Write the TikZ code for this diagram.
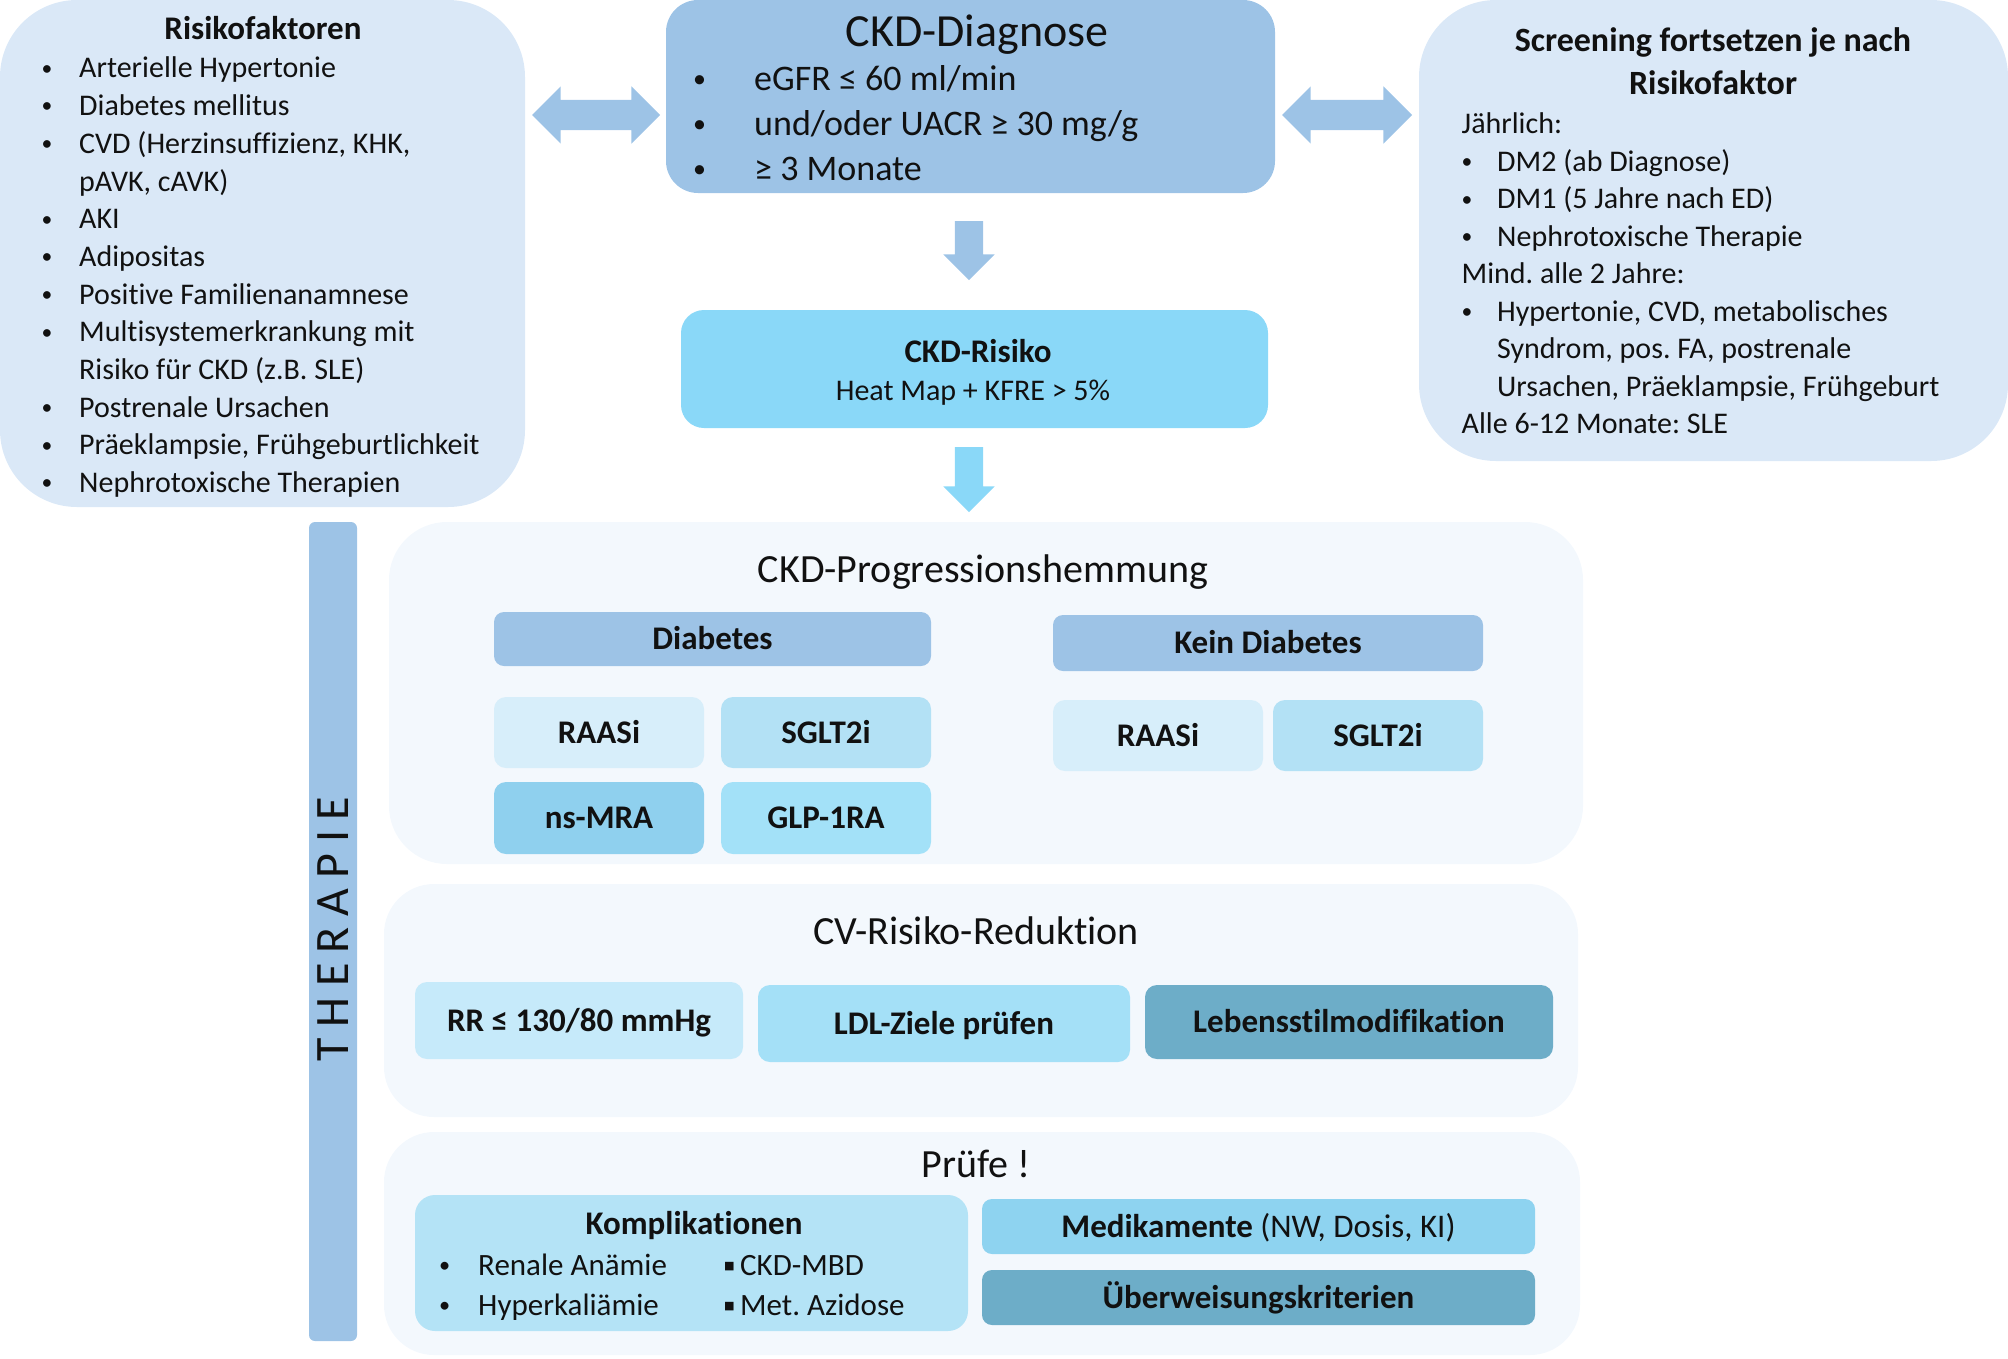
\documentclass[tikz,border=0pt]{standalone}
\usepackage{fontspec}
\setmainfont[Ligatures=NoCommon]{Carlito}
\newfontfamily\symfont{DejaVu Sans}
\usetikzlibrary{shapes.arrows}
\definecolor{cSide}{HTML}{DAE8F7}
\definecolor{cBlue}{HTML}{9DC3E6}
\definecolor{cCyan}{HTML}{8AD8F8}
\definecolor{cPanel}{HTML}{F3F8FD}
\definecolor{cRaas}{HTML}{D7EEFA}
\definecolor{cSglt}{HTML}{B3E1F5}
\definecolor{cMra}{HTML}{8FD0EE}
\definecolor{cGlp}{HTML}{A3E1F8}
\definecolor{cRR}{HTML}{C6EAFA}
\definecolor{cLdl}{HTML}{A4E0F7}
\definecolor{cDark}{HTML}{6DADC8}
\definecolor{cKompl}{HTML}{B4E3F6}
\definecolor{cMed}{HTML}{8ED3F0}
\definecolor{cText}{HTML}{111111}
\newcommand\bul{\raisebox{0.09em}{\scalebox{0.72}{•}}}
\newcommand\sqbul{\raisebox{0.2em}{\scalebox{0.36}{\symfont ■}}}
\frenchspacing
\begin{document}
\begin{tikzpicture}[x=1pt,y=-1pt,
  rbox/.style={rounded corners=#1, inner sep=0pt, outer sep=0pt, text=cText},
  lbl/.style={font=\fontsize{33}{40}\selectfont\bfseries, text height=21pt, text depth=0pt},
  ttl/.style={anchor=base, inner sep=0pt, text=cText},
  lst/.style={anchor=north west, inner sep=0pt, text=cText},
  blockarrow/.style={single arrow, shape border rotate=270, inner sep=14pt,
      single arrow head extend=11.5pt, minimum height=#1, outer sep=0pt},
  dblarrow/.style={double arrow, inner sep=15pt, double arrow head extend=13.5pt,
      minimum height=#1, outer sep=0pt, fill=cBlue}
]
\useasboundingbox (0,0) rectangle (2008,1358);

% ---------- top row ----------
\node[rbox=77pt, fill=cSide, minimum width=525pt, minimum height=507pt] (risk) at (262.5,253.5) {};
\node[rbox=32pt, fill=cBlue, minimum width=609pt, minimum height=193pt] (diag) at (970.5,96.5) {};
\node[rbox=77pt, fill=cSide, minimum width=589pt, minimum height=461pt] (scr) at (1713.5,230.5) {};
\node[dblarrow=128pt] (aL) at (596,115) {};
\node[dblarrow=130pt] (aR) at (1347,115) {};

\node[ttl, font=\fontsize{33}{40}\selectfont\bfseries] (risktitle) at (263,39) {Risikofaktoren};
\node[lst] (risklist) at (41.5,51.4) {\fontsize{30}{37.7}\selectfont
\begin{tabular}{@{}p{37.5pt}@{}l@{}}
\bul&Arterielle Hypertonie\\
\bul&Diabetes mellitus\\
\bul&CVD (Herzinsuffizienz, KHK,\\
&pAVK, cAVK)\\
\bul&AKI\\
\bul&Adipositas\\
\bul&Positive Familienanamnese\\
\bul&Multisystemerkrankung mit\\
&Risiko für CKD (z.B. SLE)\\
\bul&Postrenale Ursachen\\
\bul&Präeklampsie, Frühgeburtlichkeit\\
\bul&Nephrotoxische Therapien
\end{tabular}};

\node[ttl, font=\fontsize{46}{50}\selectfont] (diagtitle) at (977,46) {CKD-Diagnose};
\node[lst] (diaglist) at (693,59) {\fontsize{36}{45}\selectfont
\begin{tabular}{@{}p{61pt}@{}l@{}}
\bul&eGFR ≤ 60 ml/min\\
\bul&und/oder UACR ≥ 30 mg/g\\
\bul&≥ 3 Monate
\end{tabular}};

\node[ttl, font=\fontsize{34}{40}\selectfont\bfseries] (scrt1) at (1713,51) {Screening fortsetzen je nach};
\node[ttl, font=\fontsize{34}{40}\selectfont\bfseries] (scrt2) at (1713,94.5) {Risikofaktor};
\node[lst] (scrlist) at (1461.5,107.5) {\fontsize{30}{37.5}\selectfont
\begin{tabular}{@{}p{35.5pt}@{}l@{}}
\multicolumn{2}{@{}l@{}}{Jährlich:}\\
\bul&DM2 (ab Diagnose)\\
\bul&DM1 (5 Jahre nach ED)\\
\bul&Nephrotoxische Therapie\\
\multicolumn{2}{@{}l@{}}{Mind. alle 2 Jahre:}\\
\bul&Hypertonie, CVD, metabolisches\\
&Syndrom, pos. FA, postrenale\\
&Ursachen, Präeklampsie, Frühgeburt\\
\multicolumn{2}{@{}l@{}}{Alle 6-12 Monate: SLE}
\end{tabular}};

% ---------- CKD-Risiko ----------
\node[blockarrow=59pt, fill=cBlue] (d1) at (969,243.5) {};
\node[rbox=23pt, fill=cCyan, minimum width=587pt, minimum height=118pt] (ckdr) at (974.5,369) {};
\node[ttl, font=\fontsize{33}{38}\selectfont\bfseries] (ckdrt) at (978,362.5) {CKD-Risiko};
\node[ttl, font=\fontsize{30}{35}\selectfont] (ckdrs) at (973,400.5) {Heat Map + KFRE > 5\%};
\node[blockarrow=65pt, fill=cCyan] (d2) at (969,472.5) {};

% ---------- THERAPIE bar ----------
\node[rbox=6pt, fill=cBlue, minimum width=48pt, minimum height=819pt] (ther) at (333,931.5) {};
\node[rotate=90, inner sep=0pt, font=\fontsize{48}{48}\selectfont, text height=31pt, text depth=0pt, text=cText] (thertext) at (333,929)
  {T\hspace{10.5pt}H\hspace{10.5pt}E\hspace{10.5pt}R\hspace{10.5pt}A\hspace{10.5pt}P\hspace{10.5pt}I\hspace{10.5pt}E};

% ---------- Panel 1 ----------
\node[rbox=58pt, fill=cPanel, minimum width=1194pt, minimum height=342pt] (p1) at (986,693) {};
\node[ttl, font=\fontsize{40}{48}\selectfont] (p1t) at (983,582) {CKD-Progressionshemmung};
\node[rbox=10pt, fill=cBlue, lbl, minimum width=437pt, minimum height=54pt] (dia) at (712.5,639) {Diabetes};
\node[rbox=12pt, fill=cRaas, lbl, minimum width=210pt, minimum height=71pt] (raasA) at (599,732.5) {RAASi};
\node[rbox=12pt, fill=cSglt, lbl, minimum width=210pt, minimum height=71pt] (sgltA) at (826,732.5) {SGLT2i};
\node[rbox=12pt, fill=cMra, lbl, minimum width=210pt, minimum height=72pt] (mra) at (599,818) {ns-MRA};
\node[rbox=12pt, fill=cGlp, lbl, minimum width=210pt, minimum height=72pt] (glp) at (826,818) {GLP-1RA};
\node[rbox=10pt, fill=cBlue, lbl, minimum width=430pt, minimum height=56pt] (kdia) at (1268,643) {Kein Diabetes};
\node[rbox=12pt, fill=cRaas, lbl, minimum width=210pt, minimum height=71pt] (raasB) at (1158,735.5) {RAASi};
\node[rbox=12pt, fill=cSglt, lbl, minimum width=210pt, minimum height=71pt] (sgltB) at (1378,735.5) {SGLT2i};

% ---------- Panel 2 ----------
\node[rbox=50pt, fill=cPanel, minimum width=1194pt, minimum height=233pt] (p2) at (981,1000.5) {};
\node[ttl, font=\fontsize{40}{48}\selectfont] (p2t) at (976,944) {CV-Risiko-Reduktion};
\node[rbox=12pt, fill=cRR, lbl, minimum width=328pt, minimum height=77pt] (rr) at (579,1020.5) {RR ≤ 130/80 mmHg};
\node[rbox=12pt, fill=cLdl, lbl, minimum width=372pt, minimum height=77pt] (ldl) at (944,1023.5) {LDL-Ziele prüfen};
\node[rbox=12pt, fill=cDark, lbl, minimum width=408pt, minimum height=74pt] (leb) at (1349,1022) {Lebensstilmodifikation};

% ---------- Panel 3 ----------
\node[rbox=50pt, fill=cPanel, minimum width=1196pt, minimum height=223pt] (p3) at (982,1243.5) {};
\node[ttl, font=\fontsize{40}{48}\selectfont] (p3t) at (976,1177) {Prüfe !};
\node[rbox=20pt, fill=cKompl, minimum width=553pt, minimum height=136pt] (kompl) at (691.5,1263) {};
\node[ttl, font=\fontsize{33}{40}\selectfont\bfseries] (komplt) at (694,1234) {Komplikationen};
\node[lst] (kompllist) at (439,1247) {\fontsize{31}{40}\selectfont
\begin{tabular}{@{}p{39pt}@{}p{246pt}@{}p{16pt}@{}l@{}}
\bul&Renale Anämie&\sqbul&CKD-MBD\\
\bul&Hyperkaliämie&\sqbul&Met. Azidose
\end{tabular}};
\node[rbox=10pt, fill=cMed, lbl, minimum width=553pt, minimum height=55pt] (med) at (1258.5,1226.5) {Medikamente \mdseries(NW, Dosis, KI)};
\node[rbox=10pt, fill=cDark, lbl, minimum width=553pt, minimum height=55pt] (ueb) at (1258.5,1297.5) {Überweisungskriterien};
\end{tikzpicture}
\end{document}
